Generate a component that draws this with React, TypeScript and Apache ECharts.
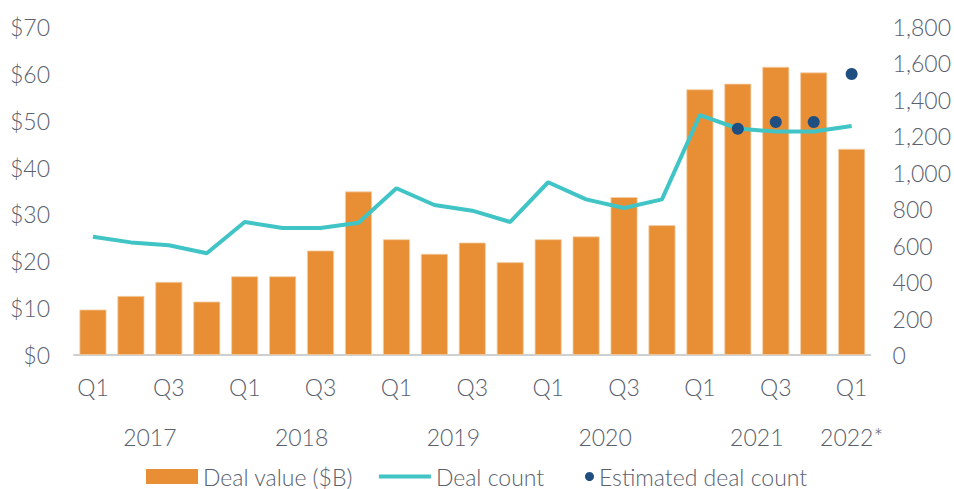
import React, { useEffect, useRef } from "react";
import * as echarts from "echarts";

const years = ["2017", "2018", "2019", "2020", "2021", "2022*"];
const quartersPerYear = [4, 4, 4, 4, 4, 1];
const quarterLabels = ["Q1", "Q2", "Q3", "Q4"];

const dealValue = [
  9.7, 12.6, 15.6, 11.4, 16.8, 16.8, 22.3, 34.9, 24.7, 21.6, 24.0,
  19.8, 24.7, 25.3, 33.7, 27.7, 56.7, 57.9, 61.5, 60.3, 44.0,
];
const dealCount = [
  649, 618, 602, 558, 730, 697, 697, 726, 915, 823, 792,
  730, 948, 854, 807, 854, 1317, 1243, 1226, 1226, 1257,
];
const estimatedCount: (number | null)[] = [
  null, null, null, null, null, null, null, null, null, null, null,
  null, null, null, null, null, null, 1242, 1279, 1279, 1542,
];

const leftTicks = { min: 0, max: 70, interval: 10 };
const rightTicks = { min: 0, max: 1800, interval: 200 };

const FONT = "Lato";
const TEXT = "#59606e";

export default function App() {
  const ref = useRef<HTMLDivElement>(null);

  useEffect(() => {
    if (!ref.current) return;
    const chart = echarts.init(ref.current, null, { renderer: "svg" });

    const categories: string[] = [];
    const yearCenters: number[] = [];
    let idx = 0;
    years.forEach((y, yi) => {
      const n = quartersPerYear[yi];
      yearCenters.push(idx + (n - 1) / 2);
      for (let q = 0; q < n; q++) {
        categories.push(`${y} ${quarterLabels[q]}`);
        idx++;
      }
    });

    const labelFont = { fontFamily: FONT, fontSize: 23, fontWeight: 300, color: TEXT };
    const legendText = { fontFamily: FONT, fontSize: 23, fontWeight: 300, color: TEXT, padding: [0, 0, 0, 0] };

    chart.setOption({
      animation: false,
      textStyle: { fontFamily: FONT },
      grid: { left: 74, right: 83, top: 27, bottom: 134, containLabel: false },
      legend: [
        {
          left: 141,
          top: 460,
          itemGap: 26,
          itemWidth: 52,
          itemHeight: 15,
          textStyle: legendText,
          data: [
            { name: "Deal value ($B)", icon: "rect", itemStyle: { color: "#E88F36", borderWidth: 0 } },
            { name: "Deal count", icon: "path://M0,0 L55,0 L55,4 L0,4 Z", itemStyle: { color: "#41C4C5" } },
          ],
        },
        {
          left: 580,
          top: 460,
          itemWidth: 9,
          itemHeight: 12,
          textStyle: legendText,
          data: [{ name: "Estimated deal count", icon: "circle", itemStyle: { color: "#1F4E80" } }],
        },
      ],
      xAxis: [
        {
          type: "category",
          data: categories,
          axisLine: { show: true, lineStyle: { color: "#bfbfbf", width: 1.5 } },
          axisTick: { show: false },
          axisLabel: {
            interval: 1,
            margin: 20,
            ...labelFont,
            formatter: (v: string) => v.split(" ")[1],
          },
        },
        {
          type: "value",
          position: "bottom",
          min: -0.5,
          max: categories.length - 0.5,
          axisLine: { show: false },
          axisTick: { show: false },
          splitLine: { show: false },
          axisLabel: {
            customValues: yearCenters,
            margin: 70,
            ...labelFont,
            formatter: (v: number) => {
              const i = yearCenters.findIndex((c) => Math.abs(c - v) < 1e-6);
              return i >= 0 ? years[i] : "";
            },
          },
        },
      ],
      yAxis: [
        {
          type: "value",
          ...leftTicks,
          axisLine: { show: false },
          axisTick: { show: false },
          splitLine: { show: false },
          axisLabel: {
            margin: 24,
            ...labelFont,
            formatter: (v: number) => `$${v}`,
          },
        },
        {
          type: "value",
          ...rightTicks,
          position: "right",
          axisLine: { show: false },
          axisTick: { show: false },
          splitLine: { show: false },
          axisLabel: {
            margin: 22,
            ...labelFont,
            formatter: (v: number) => v.toLocaleString("en-US"),
          },
        },
      ],
      series: [
        {
          name: "Deal value ($B)",
          type: "bar",
          xAxisIndex: 0,
          yAxisIndex: 0,
          data: dealValue,
          barWidth: 27,
          itemStyle: { color: "#E88F36", borderColor: "#f3cfa6", borderWidth: 0.8 },
        },
        {
          name: "Deal count",
          type: "line",
          xAxisIndex: 0,
          yAxisIndex: 1,
          data: dealCount,
          symbol: "none",
          lineStyle: { color: "#41C4C5", width: 4 },
          itemStyle: { color: "#41C4C5" },
          z: 3,
        },
        {
          name: "Estimated deal count",
          type: "scatter",
          xAxisIndex: 0,
          yAxisIndex: 1,
          data: estimatedCount,
          symbol: "circle",
          symbolSize: 12,
          itemStyle: { color: "#1F4E80", opacity: 1 },
          z: 4,
        },
      ],
    });

    return () => chart.dispose();
  }, []);

  return <div ref={ref} style={{ width: 954, height: 489, position: "absolute", left: 0, top: 0 }} />;
}
